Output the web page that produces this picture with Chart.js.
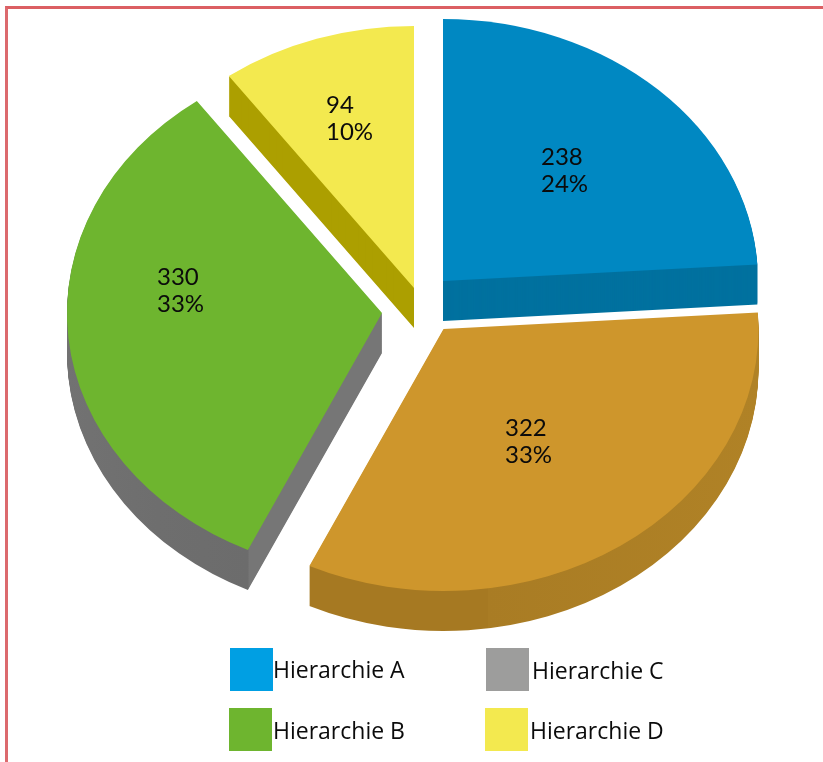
<!DOCTYPE html>
<html>
<head>
<meta charset="utf-8">
<title>Hierarchie</title>
<script src="https://cdn.jsdelivr.net/npm/chart.js@4"></script>
<style>
  html, body { margin: 0; padding: 0; background: #fff; overflow: hidden; }
  #wrap { position: relative; width: 823px; height: 762px; }
  #frame { position: absolute; left: 5px; top: 6px; right: 0; bottom: 0; border-top: 3px solid #dc5f63; border-left: 3px solid #dc6a6e; }
  canvas { position: absolute; left: 0; top: 0; }
</style>
</head>
<body>
<div id="wrap">
  <div id="frame"></div>
  <canvas id="pie" width="823" height="762"></canvas>
</div>
<script>
// clockwise from 12 o'clock, same order as the picture
const categories = ["Hierarchie A", "Hierarchie C", "Hierarchie B", "Hierarchie D"];
const counts = [238, 322, 330, 94];
// slice sizes in the picture follow the rounded percentages, not the counts
const percents = [24, 33, 33, 10];

const topColors = ["#0088c2", "#ce962c", "#6eb52f", "#f3e94f"];
const sideColors = ["#00719f", "#a87b23", "#707070", "#ac9f00"];

// where the tip of each exploded slice lands on the page
const sliceTips = [[443, 281], [443.5, 329], [382, 313], [414, 288]];
const labelSpots = [[541, 165], [505, 436], [157, 285], [326, 113]];

const legendLabels = ["Hierarchie A", "Hierarchie B", "Hierarchie C", "Hierarchie D"];
const legendColors = ["#009fe3", "#6eb52f", "#9d9d9c", "#f3e94f"];
const legendBoxes = [[230, 648], [229, 708], [486, 648], [485, 708]];
const legendText = [[273, 678], [273, 739], [532, 679], [530, 739]];

const RADIUS = 315;
const SQUASH = 262 / 315;
const DEPTH = 40;

function sideFill(ctx, arc, i) {
  // the outer wall changes shade partway along on orange and green
  if (i === 1) {
    const g = ctx.createLinearGradient(arc.x - RADIUS, 0, arc.x + RADIUS, 0);
    g.addColorStop(0, "#a67922");
    g.addColorStop(0.57, "#a67922");
    g.addColorStop(0.57, "#a97c24");
    g.addColorStop(1, "#b08226");
    return g;
  }
  if (i === 2) {
    const g = ctx.createLinearGradient(arc.x - RADIUS, 0, arc.x - 133, 0);
    g.addColorStop(0, "#727272");
    g.addColorStop(0.5, "#6e6e6e");
    g.addColorStop(0.995, "#6c6c6c");
    g.addColorStop(1, "#767676");
    return g;
  }
  return sideColors[i];
}

function drawSlice(ctx, arc, i, fill, drop) {
  const ghost = Object.create(arc);
  ghost.options = { ...arc.options, backgroundColor: fill };
  ctx.save();
  ctx.translate(sliceTips[i][0], sliceTips[i][1] + drop);
  ctx.scale(1, SQUASH);
  ctx.translate(-arc.x, -arc.y);
  ghost.draw(ctx);
  ctx.restore();
}

const pie3d = {
  id: "pie3d",
  beforeDatasetsDraw(chart) {
    const ctx = chart.ctx;
    chart.getDatasetMeta(0).data.forEach((arc, i) => {
      const fill = sideFill(ctx, arc, i);
      for (let d = DEPTH; d > 0; d--) drawSlice(ctx, arc, i, fill, d);
      drawSlice(ctx, arc, i, topColors[i], 0);
    });
    return false;
  },
  afterDraw(chart) {
    const ctx = chart.ctx;
    ctx.save();
    ctx.textBaseline = "alphabetic";
    ctx.textAlign = "left";
    ctx.fillStyle = "#0b0b0b";
    ctx.font = "24px Lato";
    counts.forEach((v, i) => {
      ctx.fillText(String(v), labelSpots[i][0], labelSpots[i][1]);
      ctx.fillText(percents[i] + "%", labelSpots[i][0], labelSpots[i][1] + 27);
    });
    ctx.font = "23px 'Open Sans'";
    legendLabels.forEach((label, i) => {
      ctx.fillStyle = legendColors[i];
      ctx.fillRect(legendBoxes[i][0], legendBoxes[i][1], 43, 43);
      ctx.fillStyle = "#0b0b0b";
      ctx.fillText(label, legendText[i][0], legendText[i][1]);
    });
    ctx.restore();
  },
};

new Chart(document.getElementById("pie"), {
  type: "pie",
  data: {
    labels: categories,
    datasets: [{ data: percents, backgroundColor: topColors, borderWidth: 0, radius: RADIUS }],
  },
  options: {
    responsive: false,
    animation: false,
    events: [],
    plugins: { legend: { display: false }, tooltip: { enabled: false } },
  },
  plugins: [pie3d],
});
</script>
</body>
</html>
